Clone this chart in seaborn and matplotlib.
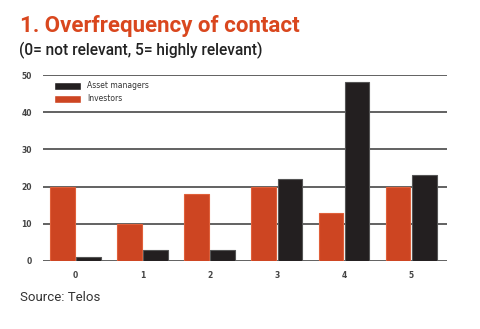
import matplotlib
matplotlib.use("Agg")
import matplotlib.pyplot as plt
import seaborn as sns
import pandas as pd
from matplotlib import font_manager as fm

categories = ["0", "1", "2", "3", "4", "5"]
investors = [20, 10, 18, 20, 13, 20]
asset_managers = [1, 3, 3, 22, 48, 23]
yticks = [0, 10, 20, 30, 40, 50]

RED = "#CD4522"
BLACK = "#231F20"

sns.set_theme(style="white")
avail = {f.name for f in fm.fontManager.ttflist}
narrow = "Liberation Sans Narrow" if "Liberation Sans Narrow" in avail else "DejaVu Sans"
plt.rcParams["font.family"] = ["Roboto", "DejaVu Sans"]

df = pd.DataFrame({
    "score": categories * 2,
    "value": investors + asset_managers,
    "group": ["Investors"] * 6 + ["Asset managers"] * 6,
})

fig = plt.figure(figsize=(4.8, 3.29), dpi=100)
ax = fig.add_axes([0.09, 0.207, 0.842, 0.565])
sns.barplot(data=df, x="score", y="value", hue="group",
            hue_order=["Investors", "Asset managers"],
            palette={"Investors": RED, "Asset managers": BLACK},
            saturation=1, width=0.78, gap=0.06, ax=ax, zorder=3)
for p, ec in zip(ax.patches, [("#E0603A")] * 6 + ["#555555"] * 6):
    p.set_edgecolor(ec)
    p.set_linewidth(0.8)

ax.set_ylim(0, 50)
ax.set_xlim(-0.48, 5.54)
ax.set_yticks(yticks)
ax.yaxis.grid(True, color="#555555", linewidth=1.3, zorder=0)
ax.set_axisbelow(True)
for s in ax.spines.values():
    s.set_visible(False)
ax.set_xlabel("")
ax.set_ylabel("")
ax.tick_params(axis="both", length=0, labelsize=5.5, labelcolor="#444444")
ax.tick_params(axis="y", pad=8)
ax.tick_params(axis="x", pad=7)
for lab in ax.get_xticklabels() + ax.get_yticklabels():
    lab.set_family(narrow)
    lab.set_fontweight("bold")

handles, labels = ax.get_legend_handles_labels()
order = [labels.index("Asset managers"), labels.index("Investors")]
leg = ax.legend([handles[i] for i in order], [labels[i] for i in order],
                loc="upper left", bbox_to_anchor=(0.015, 0.99), frameon=False,
                prop={"family": narrow, "size": 5.5},
                handlelength=3.6, handleheight=1.3, labelspacing=0.5,
                handletextpad=0.8, borderaxespad=0.2)
for t in leg.get_texts():
    t.set_color("#333333")

fig.text(0.042, 0.955, "1. Overfrequency of contact", color="#D9471E",
         fontsize=16, fontweight="bold", va="top", ha="left")
fig.text(0.040, 0.872, "(0= not relevant, 5= highly relevant)", color="#222222",
         fontsize=11.2, fontweight="medium", va="top", ha="left")
fig.text(0.042, 0.115, "Source: Telos", color="#333333",
         fontsize=9.5, va="top", ha="left")

fig.savefig("out.png", dpi=100, facecolor="white")
